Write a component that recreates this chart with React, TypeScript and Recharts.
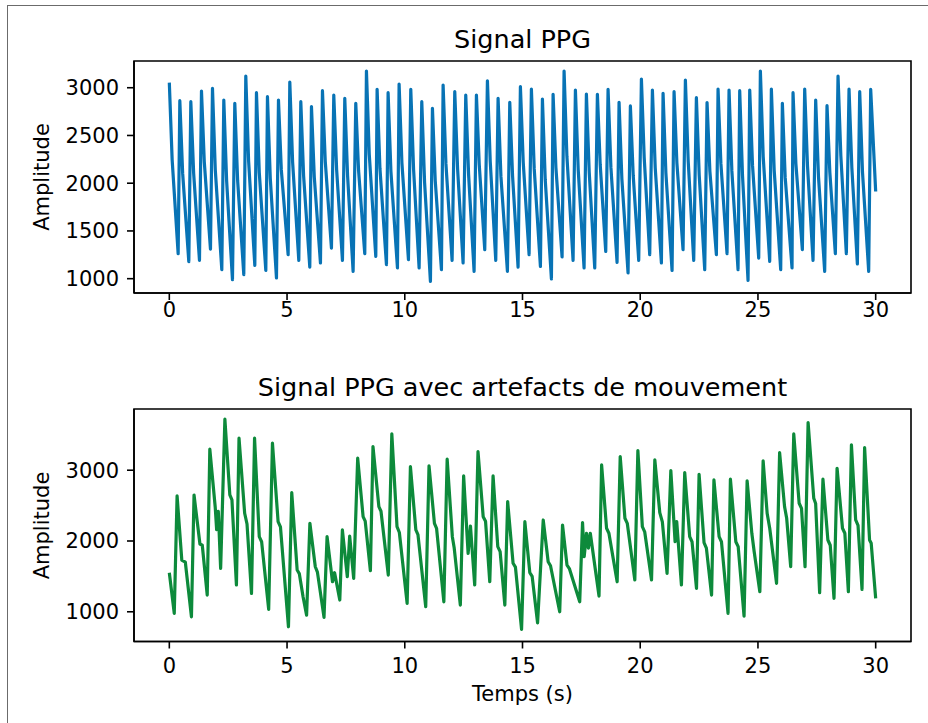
import React from 'react';
import { LineChart, Line, XAxis, YAxis, ReferenceArea } from 'recharts';

// ---- Data: Signal PPG (time in s, amplitude) ----
const ppgTime = [
  0, 0.12, 0.375,
  0.446, 0.566, 0.828,
  0.913, 1.033, 1.281,
  1.366, 1.486, 1.748,
  1.833, 1.953, 2.229,
  2.314, 2.434, 2.682,
  2.781, 2.901, 3.163,
  3.248, 3.368, 3.631,
  3.701, 3.821, 4.098,
  4.168, 4.288, 4.551,
  4.636, 4.756, 5.046,
  5.117, 5.237, 5.499,
  5.584, 5.704, 5.966,
  6.037, 6.157, 6.419,
  6.504, 6.624, 6.886,
  6.985, 7.105, 7.353,
  7.452, 7.572, 7.806,
  7.919, 8.039, 8.301,
  8.372, 8.492, 8.769,
  8.825, 8.945, 9.222,
  9.292, 9.412, 9.689,
  9.759, 9.879, 10.156,
  10.255, 10.375, 10.609,
  10.722, 10.842, 11.09,
  11.175, 11.295, 11.557,
  11.628, 11.748, 12.01,
  12.123, 12.243, 12.477,
  12.59, 12.71, 12.944,
  13.043, 13.163, 13.397,
  13.51, 13.63, 13.864,
  13.963, 14.083, 14.36,
  14.459, 14.579, 14.812,
  14.911, 15.031, 15.28,
  15.378, 15.498, 15.761,
  15.846, 15.966, 16.228,
  16.299, 16.419, 16.681,
  16.766, 16.886, 17.148,
  17.247, 17.367, 17.615,
  17.714, 17.834, 18.068,
  18.181, 18.301, 18.535,
  18.634, 18.754, 19.016,
  19.101, 19.221, 19.483,
  19.582, 19.702, 19.936,
  20.05, 20.17, 20.403,
  20.517, 20.637, 20.899,
  20.97, 21.09, 21.352,
  21.437, 21.557, 21.819,
  21.918, 22.038, 22.272,
  22.385, 22.505, 22.739,
  22.838, 22.958, 23.234,
  23.305, 23.425, 23.687,
  23.772, 23.892, 24.154,
  24.225, 24.345, 24.579,
  24.65, 24.77, 25.032,
  25.103, 25.223, 25.499,
  25.57, 25.69, 25.966,
  26.037, 26.157, 26.447,
  26.49, 26.61, 26.886,
  26.985, 27.105, 27.339,
  27.452, 27.572, 27.834,
  27.933, 28.053, 28.287,
  28.401, 28.521, 28.754,
  28.868, 28.988, 29.222,
  29.321, 29.441, 29.703,
  29.788, 30,
];

const ppgAmp = [
  3053, 2247, 1262,
  2864, 2105, 1178,
  2854, 2106, 1192,
  2966, 2221, 1310,
  2993, 2138, 1094,
  2871, 2025, 990,
  2837, 2029, 1042,
  3122, 2230, 1140,
  2948, 2111, 1087,
  2906, 2051, 1007,
  2871, 2142, 1251,
  3060, 2219, 1192,
  2854, 2075, 1122,
  2802, 2065, 1164,
  2969, 2227, 1321,
  2924, 2145, 1192,
  2889, 2074, 1077,
  2837, 2128, 1262,
  3175, 2302, 1234,
  2983, 2157, 1147,
  2948, 2122, 1112,
  3039, 2211, 1199,
  2983, 2141, 1112,
  2854, 2007, 972,
  2784, 2023, 1094,
  3028, 2202, 1192,
  2959, 2151, 1164,
  2924, 2093, 1077,
  2924, 2195, 1303,
  3073, 2227, 1192,
  2889, 2074, 1077,
  2847, 2071, 1122,
  3011, 2219, 1251,
  2986, 2150, 1129,
  2882, 2034, 997,
  2931, 2164, 1227,
  3175, 2283, 1192,
  2976, 2137, 1112,
  2934, 2114, 1112,
  2931, 2191, 1286,
  2983, 2168, 1171,
  2847, 2043, 1060,
  2809, 2081, 1192,
  3091, 2263, 1251,
  2976, 2161, 1164,
  2941, 2107, 1087,
  2959, 2214, 1303,
  3080, 2230, 1192,
  2896, 2085, 1094,
  2844, 2127, 1251,
  2986, 2210, 1262,
  2976, 2129, 1094,
  2969, 2075, 983,
  2976, 2184, 1216,
  3175, 2278, 1182,
  2986, 2135, 1094,
  2837, 2061, 1112,
  2948, 2208, 1303,
  2986, 2179, 1192,
  2871, 2064, 1077,
  2812, 2114, 1262,
  3122, 2285, 1262,
  2986, 2162, 1154,
  2959, 2112, 1077,
  2983, 1913,
];

// ---- Data: Signal PPG avec artefacts de mouvement ----
const artTime = [
  0, 0.21, 0.33, 0.53, 0.68, 0.94, 1.05, 1.3, 1.4, 1.61, 1.72, 1.95, 2.01, 2.08, 2.18,
  2.36, 2.57, 2.66, 2.85, 2.96, 3.2, 3.3, 3.49, 3.62, 3.82, 3.92, 4.22, 4.38, 4.62, 4.72,
  5.06, 5.2, 5.43, 5.52, 5.68, 5.83, 5.97, 6.2, 6.29, 6.57, 6.7, 6.93, 7.02, 7.24, 7.35,
  7.56, 7.66, 7.83, 8.0, 8.23, 8.32, 8.54, 8.65, 8.9, 8.99, 9.3, 9.45, 9.67, 9.77, 10.1,
  10.24, 10.47, 10.56, 10.89, 11.03, 11.26, 11.35, 11.66, 11.8, 12.02, 12.1, 12.36, 12.5,
  12.69, 12.79, 12.97, 13.11, 13.33, 13.43, 13.61, 13.75, 13.95, 14.05, 14.25, 14.37, 14.6,
  14.7, 14.96, 15.1, 15.31, 15.41, 15.64, 15.88, 16.09, 16.19, 16.58, 16.7, 16.89, 16.99,
  17.43, 17.55, 17.62, 17.72, 17.8, 17.88, 18.25, 18.36, 18.57, 18.67, 19.02, 19.15, 19.35,
  19.45, 19.77, 19.9, 20.09, 20.19, 20.48, 20.62, 20.83, 20.94, 21.14, 21.3, 21.48, 21.55,
  21.75, 21.89, 22.1, 22.2, 22.39, 22.5, 22.71, 22.81, 23.03, 23.13, 23.35, 23.45, 23.73,
  23.83, 24.06, 24.16, 24.41, 24.54, 24.74, 24.84, 25.08, 25.22, 25.39, 25.5, 25.79, 25.92,
  26.13, 26.22, 26.39, 26.52, 26.75, 26.85, 27.0, 27.13, 27.37, 27.45, 27.62, 27.76, 27.97,
  28.07, 28.23, 28.36, 28.59, 28.69, 28.84, 28.97, 29.15, 29.25, 29.42, 29.53, 29.74, 29.81,
  30.0,
];

const artAmp = [
  1552, 977, 2637, 1731, 1700, 929, 2650, 1958, 1940, 1236, 3297, 2477, 2160, 2420, 1614,
  3721, 2650, 2580, 1378, 3453, 2392, 2240, 1260, 3453, 2061, 1990, 1034, 3382, 2273, 2200,
  788, 2683, 1590, 1540, 1212, 953, 2250, 1636, 1560, 921, 2061, 1424, 1552, 1166, 2156,
  1495, 2070, 1472, 3170, 2344, 2280, 1580, 3334, 2486, 2420, 1519, 3513, 2202, 2120, 1119,
  3051, 2156, 2090, 1071, 3061, 2250, 2180, 1141, 3156, 2061, 1900, 1095, 2919,
  1826, 2212, 1378, 3263, 2344, 2280, 1424, 2919, 1920, 1850, 1095, 2556, 1685,
  1630, 751, 2273, 1552, 1500, 844, 2297, 1707, 1650, 1000, 2226, 1660, 1610,
  1141, 2259, 1778, 2109, 1900, 2109, 1222, 3075, 2180, 2110, 1424, 3192, 2321,
  2250, 1449, 3278, 2202, 2130, 1449, 3146, 2400, 2270, 1543, 2995, 1990, 2273,
  1378, 2966, 2061, 1990, 1331, 2943, 1976, 1900, 1236, 2863, 2061, 1990, 977,
  2873, 1990, 1920, 939, 2849, 2109, 1849, 1283, 3132, 2392, 2180, 1402, 3250,
  2486, 2321, 1637, 3513, 2533, 2460, 1637, 3673, 2604, 2530, 1269, 2873, 2014,
  1940, 1190, 3028, 2180, 2110, 1283, 3358, 2297, 2220, 1316, 3320, 2014, 1967,
  1190,
];

const xTicks = [0, 5, 10, 15, 20, 25, 30];
const topYTicks = [1000, 1500, 2000, 2500, 3000];
const bottomYTicks = [1000, 2000, 3000];
const xDomain = [-1.5, 31.5];
const topYDomain = [850, 3280];
const bottomYDomain = [580, 3865];

const ppgData = ppgTime.map((t, i) => ({ t, v: ppgAmp[i] }));
const artData = artTime.map((t, i) => ({ t, v: artAmp[i] }));

const FONT = '"DejaVu Sans", Verdana, sans-serif';
const TICK_FS = 21;
const TITLE_FS = 25.5;
const AX = { stroke: '#000', strokeWidth: 1.6 };
const tickStyle = { fill: '#000', fontSize: TICK_FS, fontFamily: FONT };

function Panel(props: {
  data: { t: number; v: number }[];
  height: number;
  marginTop: number;
  marginBottom: number;
  yTicks: number[];
  yDomain: number[];
  color: string;
  xTickMargin: number;
}) {
  const { data, height, marginTop, marginBottom, yTicks, yDomain, color, xTickMargin } = props;
  return (
    <LineChart
      width={928}
      height={height}
      data={data}
      margin={{ top: marginTop, right: 17, bottom: marginBottom, left: 0 }}
    >
      <XAxis
        dataKey="t"
        type="number"
        domain={xDomain}
        ticks={xTicks}
        interval={0}
        height={40}
        tickSize={7}
        tickMargin={xTickMargin}
        axisLine={AX}
        tickLine={AX}
        tick={tickStyle}
        allowDataOverflow
      />
      <YAxis
        type="number"
        domain={yDomain}
        ticks={yTicks}
        interval={0}
        width={134}
        tickSize={7}
        tickMargin={8}
        axisLine={AX}
        tickLine={AX}
        tick={tickStyle}
        allowDataOverflow
      />
      <Line
        type="linear"
        dataKey="v"
        stroke={color}
        strokeWidth={3.2}
        dot={false}
        activeDot={false}
        isAnimationActive={false}
        strokeLinejoin="round"
      />
      <ReferenceArea
        x1={xDomain[0]}
        x2={xDomain[1]}
        y1={yDomain[0]}
        y2={yDomain[1]}
        fill="none"
        fillOpacity={0}
        stroke="#000"
        strokeWidth={1.6}
        strokeOpacity={1}
        ifOverflow="visible"
      />
    </LineChart>
  );
}

export default function App() {
  return (
    <div
      style={{
        position: 'absolute',
        left: 0,
        top: 0,
        width: 928,
        height: 723,
        background: '#fff',
        overflow: 'hidden',
        fontFamily: FONT,
      }}
    >
      <div
        style={{
          position: 'absolute',
          left: 7,
          top: 5,
          width: 940,
          height: 740,
          borderLeft: '1px solid #6b6b6b',
          borderTop: '1px solid #6b6b6b',
        }}
      />
      <div style={{ position: 'absolute', left: 0, top: 0 }}>
        <Panel
          data={ppgData}
          height={340}
          marginTop={61}
          marginBottom={7}
          yTicks={topYTicks}
          yDomain={topYDomain}
          color="#0873b5"
          xTickMargin={2}
        />
      </div>
      <div style={{ position: 'absolute', left: 0, top: 0 }}>
        <Panel
          data={artData}
          height={723}
          marginTop={409}
          marginBottom={41.5}
          yTicks={bottomYTicks}
          yDomain={bottomYDomain}
          color="#0d8a3b"
          xTickMargin={10}
        />
      </div>
      <svg
        width={928}
        height={723}
        style={{ position: 'absolute', left: 0, top: 0, pointerEvents: 'none' }}
      >
        <text x={522.5} y={47.5} textAnchor="middle" fontSize={TITLE_FS} fontFamily={FONT} fill="#000">
          Signal PPG
        </text>
        <text x={522.5} y={395.5} textAnchor="middle" fontSize={TITLE_FS} fontFamily={FONT} fill="#000">
          Signal PPG avec artefacts de mouvement
        </text>
        <text
          transform="translate(49,177) rotate(-90)"
          textAnchor="middle"
          fontSize={TICK_FS}
          fontFamily={FONT}
          fill="#000"
        >
          Amplitude
        </text>
        <text
          transform="translate(49,525.5) rotate(-90)"
          textAnchor="middle"
          fontSize={TICK_FS}
          fontFamily={FONT}
          fill="#000"
        >
          Amplitude
        </text>
        <text x={522.5} y={701} textAnchor="middle" fontSize={TICK_FS} fontFamily={FONT} fill="#000">
          Temps (s)
        </text>
      </svg>
    </div>
  );
}
